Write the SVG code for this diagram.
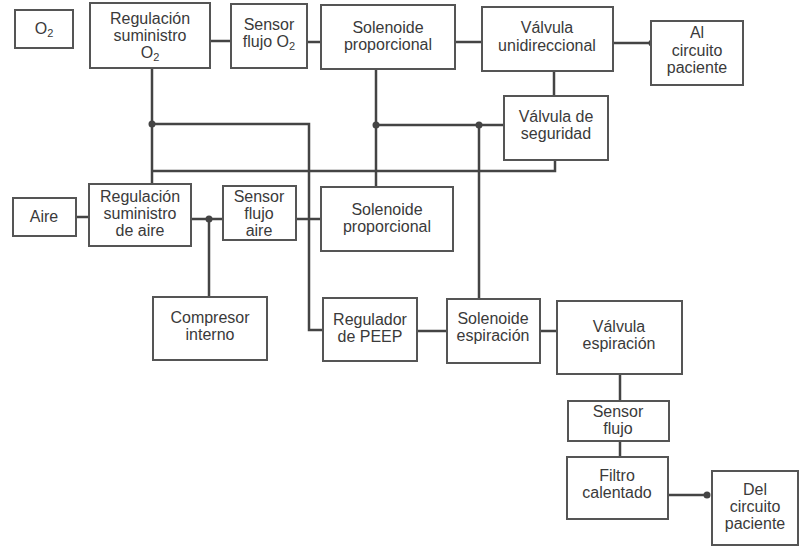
<svg xmlns="http://www.w3.org/2000/svg" width="799" height="546" viewBox="0 0 799 546">
<style>
.b{fill:#fff;stroke:#555;stroke-width:2}
.t{font-family:"Liberation Sans",Arial,sans-serif;font-size:16px;fill:#3a3a3a;text-anchor:middle}
.s{font-size:11px}
.c{fill:none;stroke:#444;stroke-width:2.5}
.d{fill:#444}
</style>
<rect width="799" height="546" fill="#fff"/>
<g id="connectors">
<path class="c" d="M210 41H231M307 42H321M455 42H482M613 43H652"/>
<path class="c" d="M152 68V184M152 124H309V330H323M152 171H555V160"/>
<path class="c" d="M376 69V187M376 125H504M479 125V299M554 71V96"/>
<path class="c" d="M76 217H89M191 219H223M209 219V297M296 219H321"/>
<path class="c" d="M417 331H447M540 331H557M620 374V401M620 441V457M668 495H707"/>
<circle class="d" cx="152" cy="124" r="3.5"/>
<circle class="d" cx="376" cy="125" r="3.5"/>
<circle class="d" cx="479" cy="125" r="3.5"/>
<circle class="d" cx="209" cy="219" r="3.5"/>
<circle class="d" cx="652" cy="43" r="3.5"/>
<circle class="d" cx="707" cy="495" r="3.5"/>
</g>
<g id="o2"><rect class="b" x="15" y="10" width="58" height="38"/><text class="t" x="44" y="34">O<tspan class="s" dy="3">2</tspan></text></g>
<g id="reg-o2"><rect class="b" x="90" y="3" width="120" height="65"/><text class="t" x="150" y="24">Regulación</text><text class="t" x="150" y="41">suministro</text><text class="t" x="150" y="58">O<tspan class="s" dy="3">2</tspan></text></g>
<g id="sensor-o2"><rect class="b" x="231" y="4" width="76" height="64"/><text class="t" x="269" y="30">Sensor</text><text class="t" x="269" y="47">flujo O<tspan class="s" dy="3">2</tspan></text></g>
<g id="solenoide-top"><rect class="b" x="321" y="5" width="134" height="64"/><text class="t" x="388" y="33">Solenoide</text><text class="t" x="388" y="50">proporcional</text></g>
<g id="valvula-uni"><rect class="b" x="482" y="7" width="131" height="64"/><text class="t" x="547" y="33">Válvula</text><text class="t" x="547" y="51">unidireccional</text></g>
<g id="al-circuito"><rect class="b" x="651" y="21" width="92" height="64"/><text class="t" x="697" y="38">Al</text><text class="t" x="697" y="56">circuito</text><text class="t" x="697" y="73">paciente</text></g>
<g id="valvula-seg"><rect class="b" x="504" y="96" width="104" height="64"/><text class="t" x="556" y="122">Válvula de</text><text class="t" x="556" y="139">seguridad</text></g>
<g id="aire"><rect class="b" x="13" y="198" width="63" height="38"/><text class="t" x="44" y="222">Aire</text></g>
<g id="reg-aire"><rect class="b" x="89" y="184" width="102" height="62"/><text class="t" x="140" y="202">Regulación</text><text class="t" x="140" y="219">suministro</text><text class="t" x="140" y="236">de aire</text></g>
<g id="sensor-aire"><rect class="b" x="223" y="186" width="73" height="54"/><text class="t" x="259" y="202">Sensor</text><text class="t" x="259" y="219">flujo</text><text class="t" x="259" y="236">aire</text></g>
<g id="solenoide-low"><rect class="b" x="321" y="187" width="132" height="64"/><text class="t" x="387" y="215">Solenoide</text><text class="t" x="387" y="232">proporcional</text></g>
<g id="compresor"><rect class="b" x="153" y="297" width="114" height="63"/><text class="t" x="210" y="323">Compresor</text><text class="t" x="210" y="340">interno</text></g>
<g id="peep"><rect class="b" x="323" y="298" width="94" height="63"/><text class="t" x="370" y="325">Regulador</text><text class="t" x="370" y="342">de PEEP</text></g>
<g id="solenoide-esp"><rect class="b" x="447" y="299" width="93" height="64"/><text class="t" x="493" y="324">Solenoide</text><text class="t" x="493" y="341">espiración</text></g>
<g id="valvula-esp"><rect class="b" x="557" y="301" width="125" height="73"/><text class="t" x="619" y="332">Válvula</text><text class="t" x="619" y="349">espiración</text></g>
<g id="sensor-flujo"><rect class="b" x="568" y="401" width="101" height="40"/><text class="t" x="618" y="417">Sensor</text><text class="t" x="618" y="434">flujo</text></g>
<g id="filtro"><rect class="b" x="567" y="457" width="101" height="62"/><text class="t" x="617" y="481">Filtro</text><text class="t" x="617" y="498">calentado</text></g>
<g id="del-circuito"><rect class="b" x="712" y="471" width="86" height="74"/><text class="t" x="755" y="495">Del</text><text class="t" x="755" y="512">circuito</text><text class="t" x="755" y="529">paciente</text></g>
</svg>
